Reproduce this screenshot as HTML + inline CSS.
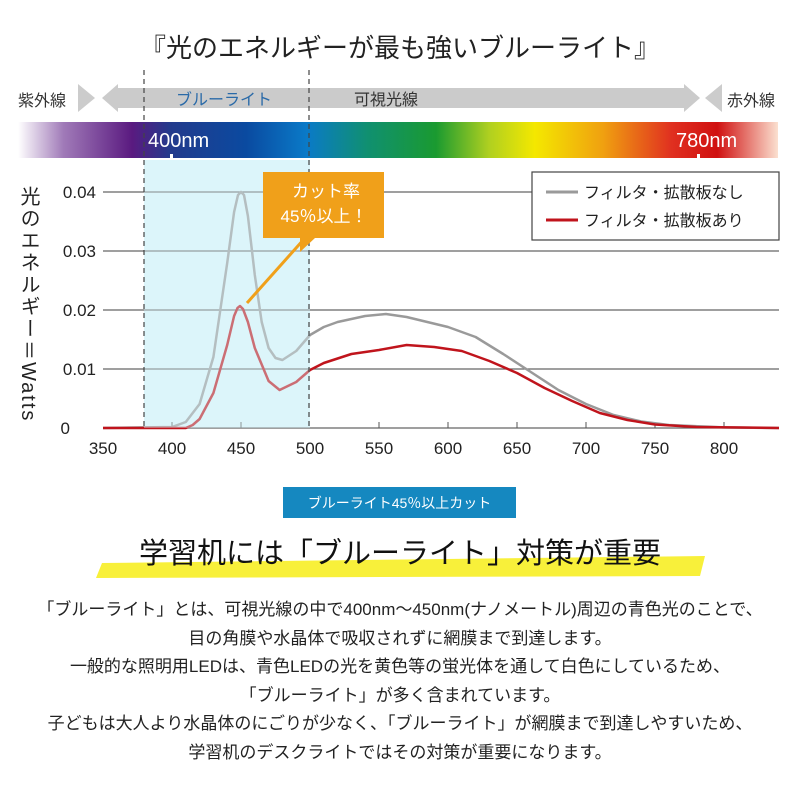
<!DOCTYPE html>
<html><head><meta charset="utf-8"><style>
body{margin:0;width:800px;height:800px;background:#fff;overflow:hidden;font-family:"Liberation Sans","Noto Sans CJK JP",sans-serif;}
</style></head><body>
<svg width="800" height="800" viewBox="0 0 800 800" xmlns="http://www.w3.org/2000/svg" font-family="Liberation Sans, Noto Sans CJK JP, sans-serif">
<defs>
<linearGradient id="sp" x1="0" x2="1">
<stop offset="0" stop-color="#fff"/>
<stop offset="0.06" stop-color="#a07ab8"/>
<stop offset="0.15" stop-color="#5a1a80"/>
<stop offset="0.2" stop-color="#233a8c"/>
<stop offset="0.3" stop-color="#0a4aa0"/>
<stop offset="0.38" stop-color="#0a7ac8"/>
<stop offset="0.46" stop-color="#109070"/>
<stop offset="0.55" stop-color="#1a9a30"/>
<stop offset="0.62" stop-color="#b0d020"/>
<stop offset="0.68" stop-color="#f4e800"/>
<stop offset="0.77" stop-color="#f0a010"/>
<stop offset="0.86" stop-color="#e03020"/>
<stop offset="0.92" stop-color="#d01010"/>
<stop offset="1" stop-color="#fbe0d0"/>
</linearGradient>
</defs>
<text x="400" y="57" font-size="26" text-anchor="middle" fill="#222">『光のエネルギーが最も強いブルーライト』</text>
<text x="18" y="106" font-size="16" fill="#333">紫外線</text>
<text x="727" y="106" font-size="16" fill="#333">赤外線</text>
<polygon points="78,84 95,98 78,112" fill="#ccc"/>
<polygon points="722,84 705,98 722,112" fill="#ccc"/>
<polygon points="102,98 118,84 118,88 684,88 684,84 700,98 684,112 684,108 118,108 118,112" fill="#cbcbcb"/>
<text x="176" y="105" font-size="16" fill="#2a6aa8">ブルーライト</text>
<text x="354" y="105" font-size="16" fill="#333">可視光線</text>
<rect x="18" y="122" width="760" height="36" fill="url(#sp)"/>
<text x="148" y="147" font-size="20" fill="#fff">400nm</text>
<text x="676" y="147" font-size="20" fill="#fff">780nm</text>
<rect x="170" y="154" width="3" height="5" fill="#fff"/>
<rect x="697" y="154" width="3" height="5" fill="#fff"/>
<rect x="144" y="160" width="166" height="268" fill="#dcf5fb"/>
<g stroke="#666" stroke-width="1.2">
<line x1="103" y1="192" x2="779" y2="192"/>
<line x1="103" y1="251" x2="779" y2="251"/>
<line x1="103" y1="310" x2="779" y2="310"/>
<line x1="103" y1="369" x2="779" y2="369"/>
<line x1="103" y1="428" x2="779" y2="428"/>
</g>
<g stroke="#555" stroke-width="1">
<line x1="172" y1="422" x2="172" y2="428"/><line x1="241" y1="422" x2="241" y2="428"/>
<line x1="379" y1="422" x2="379" y2="428"/><line x1="448" y1="422" x2="448" y2="428"/><line x1="517" y1="422" x2="517" y2="428"/><line x1="586" y1="422" x2="586" y2="428"/><line x1="655" y1="422" x2="655" y2="428"/><line x1="724" y1="422" x2="724" y2="428"/>
</g>
<path fill="none" stroke="#9a9a9a" stroke-width="2.5" stroke-linejoin="round" d="M103,428 L172,427 L185.8,422 L199.6,404 L213.4,357 L227.2,263 L234.1,212 L238,195 L241,192 L244,195 L247.9,216 L254.8,275 L261.7,322 L268.6,348 L275.5,358 L282.4,360 L296.2,351 L310,335 L323.8,327 L337.6,322 L365.2,316 L385.9,314 L406.6,317 L448,327 L475.6,337 L503.2,354 L530.8,372 L558.4,390 L586,404 L613.6,415 L641.2,421.5 L668.8,425 L724,427.4 L779,428"/>
<path fill="none" stroke="#c0141c" stroke-width="2.5" stroke-linejoin="round" d="M103,428 L185.8,428 L192.7,425 L199.6,419 L213.4,393 L227.2,345 L234.1,316 L237.5,308 L240,306 L243,309 L247.9,322 L254.8,348 L268.6,381 L279.6,390 L296.2,382 L310,370 L323.8,363 L351.4,354 L379,350 L406.6,345 L434.2,347 L461.8,351 L489.4,361 L517,373 L544.6,388 L572.2,401 L599.8,413 L627.4,420 L655,424.5 L696.4,427 L779,428"/>
<rect x="144" y="160" width="166" height="268" fill="#dcf5fb" opacity="0.4"/>
<g stroke="#444" stroke-width="1.2" stroke-dasharray="5,4">
<line x1="144" y1="70" x2="144" y2="428"/>
<line x1="309" y1="70" x2="309" y2="428"/>
</g>
<line x1="247" y1="303" x2="305" y2="238" stroke="#f0a01a" stroke-width="3"/>
<polygon points="263,172 384,172 384,238 315,238 300,252 300,238 263,238" fill="#f0a01a"/>
<text x="326" y="197" font-size="17" fill="#fff" text-anchor="middle">カット率</text>
<text x="324" y="222" font-size="17" fill="#fff" text-anchor="middle">45％以上！</text>
<rect x="532" y="172" width="247" height="68" fill="#fff" stroke="#444" stroke-width="1.2"/>
<line x1="546" y1="192" x2="578" y2="192" stroke="#9a9a9a" stroke-width="3"/>
<line x1="546" y1="220" x2="578" y2="220" stroke="#c0141c" stroke-width="3"/>
<text x="584" y="198" font-size="16" fill="#222">フィルタ・拡散板なし</text>
<text x="584" y="226" font-size="16" fill="#222">フィルタ・拡散板あり</text>
<g font-size="17" fill="#222" text-anchor="end">
<text x="96" y="198">0.04</text><text x="96" y="257">0.03</text><text x="96" y="316">0.02</text><text x="96" y="375">0.01</text><text x="70" y="434">0</text>
</g>
<g font-size="17" fill="#222" text-anchor="middle">
<text x="103" y="454">350</text><text x="172" y="454">400</text><text x="241" y="454">450</text><text x="310" y="454">500</text><text x="379" y="454">550</text><text x="448" y="454">600</text><text x="517" y="454">650</text><text x="586" y="454">700</text><text x="655" y="454">750</text><text x="724" y="454">800</text>
</g>
<text x="28" y="186" font-size="20" letter-spacing="2" fill="#222" style="writing-mode:vertical-rl">光のエネルギー＝Watts</text>
<rect x="283" y="487" width="233" height="31" fill="#1588c0"/>
<text x="399.5" y="508" font-size="14" fill="#fff" text-anchor="middle">ブルーライト45％以上カット</text>
<polygon points="102,563 705,556 700,576 96,578" fill="#f8f03a"/>
<text x="400" y="563" font-size="29" fill="#111" text-anchor="middle">学習机には「ブルーライト」対策が重要</text>
<g font-size="17" fill="#222" text-anchor="middle">
<text x="400" y="615">「ブルーライト」とは、可視光線の中で400nm〜450nm(ナノメートル)周辺の青色光のことで、</text>
<text x="400" y="644">目の角膜や水晶体で吸収されずに網膜まで到達します。</text>
<text x="400" y="672">一般的な照明用LEDは、青色LEDの光を黄色等の蛍光体を通して白色にしているため、</text>
<text x="400" y="701">「ブルーライト」が多く含まれています。</text>
<text x="400" y="729">子どもは大人より水晶体のにごりが少なく、「ブルーライト」が網膜まで到達しやすいため、</text>
<text x="400" y="758">学習机のデスクライトではその対策が重要になります。</text>
</g>
</svg>
</body></html>
